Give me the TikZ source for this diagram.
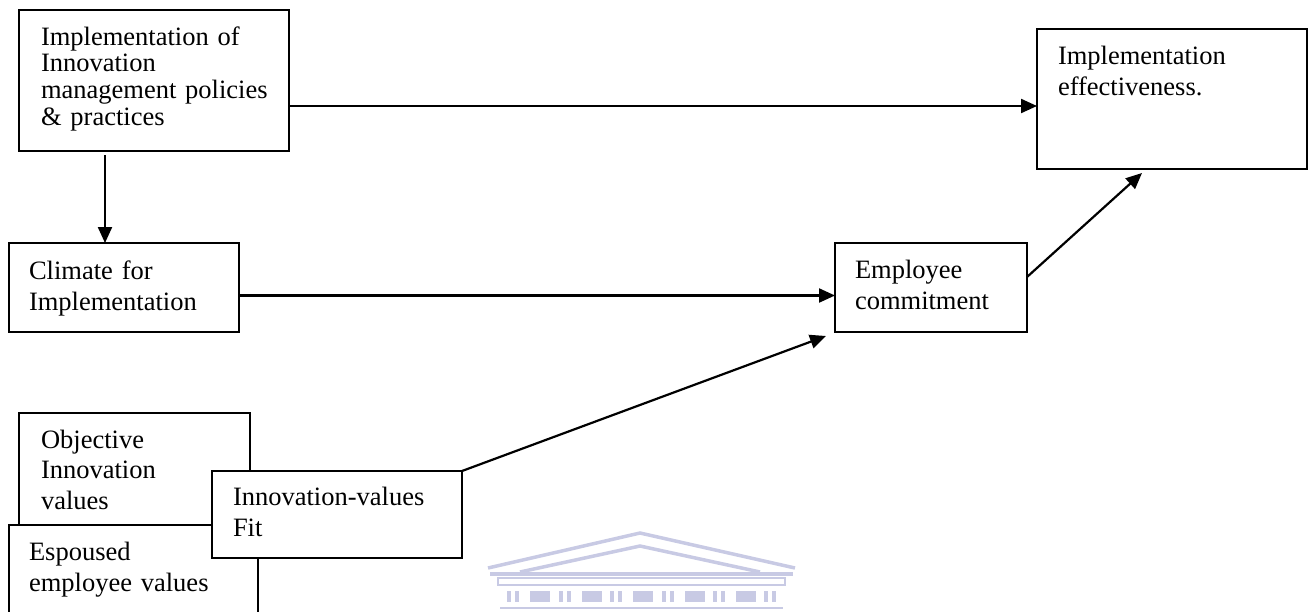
\documentclass[tikz,border=0pt]{standalone}
\usepackage{fontspec}
\setmainfont{Liberation Serif}
\usetikzlibrary{arrows.meta}
\definecolor{wm}{RGB}{200,202,228}
\begin{document}
\begin{tikzpicture}[x=1pt,y=-1pt,
  box/.style={draw, line width=2.5pt, fill=white, inner sep=0pt, outer sep=0pt, anchor=north west},
  txt/.style={anchor=base west, inner sep=0pt, outer sep=0pt, text width=#1, align=left,
    font=\fontsize{26.5pt}{31.5pt}\selectfont},
  arr/.style={line width=2.2pt, -{Triangle[length=16pt,width=14pt]}},
  wmline/.style={draw=wm, line width=3.5pt}]
\useasboundingbox (0,0) rectangle (1309,611);
\clip (0,0) rectangle (1309,611);

% watermark
\draw[wmline, line join=miter] (488,568) -- (640,533) -- (795,568);
\draw[wmline] (520,572) -- (640,546) -- (760,572);
\draw[wmline] (490,574) -- (793,574);
\draw[wm, line width=2.5pt] (498,578) rectangle (785,585);
\foreach \i in {0,...,4}{
  \fill[wm] (507+\i*51.5,591) rectangle ++(4,11);
  \fill[wm] (515+\i*51.5,591) rectangle ++(4,11);
  \fill[wm] (530+\i*51.5,591) rectangle ++(20,11);
}
\fill[wm] (764,591) rectangle ++(4,11);
\fill[wm] (772,591) rectangle ++(4,11);
\draw[wm, line width=2.5pt] (500,608) -- (783,608);

% boxes
\node[box, minimum width=270pt, minimum height=141pt] (A) at (19,10) {};
\node[box, minimum width=270pt, minimum height=140pt] (E) at (1037,29) {};
\node[box, minimum width=230pt, minimum height=89pt] (C) at (9,243) {};
\node[box, minimum width=192pt, minimum height=89pt] (M) at (835,243) {};
\node[box, minimum width=231pt, minimum height=160pt] (O) at (19,413) {};
\node[box, minimum width=249pt, minimum height=110pt] (S) at (9,525) {};
\node[box, minimum width=250pt, minimum height=87pt] (F) at (212,471) {};

% texts
\node[txt=250pt, font=\fontsize{26.5pt}{26.7pt}\selectfont] (tA) at (41,45)
  {Implementation of\\Innovation\\management policies\\\& practices};
\node[txt=240pt, font=\fontsize{26.5pt}{31pt}\selectfont] (tE) at (1058,64)
  {Implementation\\effectiveness.};
\node[txt=210pt] (tC) at (29,279) {Climate for\\Implementation};
\node[txt=170pt] (tM) at (855,278) {Employee\\commitment};
\node[txt=200pt, font=\fontsize{26.5pt}{30.5pt}\selectfont] (tO) at (41,448)
  {Objective\\Innovation\\values};
\node[txt=225pt, font=\fontsize{26.5pt}{31pt}\selectfont] (tS) at (29,560)
  {Espoused\\employee values};
\node[txt=225pt] (tF) at (233,505) {Innovation-values\\Fit};

% connectors
\draw[arr] ([yshift=-25.5pt]A.east) -- ([yshift=-7pt]E.west);
\draw[arr] ([shift={(-49,4)}]A.south) -- ([xshift=-19pt]C.north);
\draw[arr] ([yshift=-8pt]C.east) -- ([yshift=-8pt]M.west);
\draw[arr] ([yshift=10.5pt]M.east) -- ([shift={(-30,4)}]E.south);
\draw[arr] (F.north east) -- ([shift={(-9,4)}]M.south west);
\end{tikzpicture}
\end{document}
